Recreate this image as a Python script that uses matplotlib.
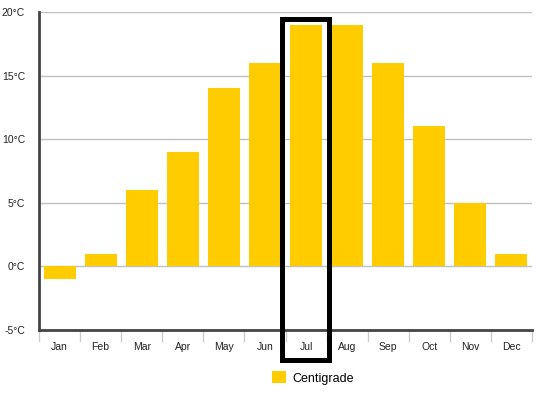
import matplotlib
matplotlib.use("Agg")
import matplotlib.pyplot as plt
from matplotlib.patches import Rectangle
import matplotlib.transforms as mtransforms

months = ["Jan", "Feb", "Mar", "Apr", "May", "Jun", "Jul", "Aug", "Sep", "Oct", "Nov", "Dec"]
centigrade = [-1, 1, 6, 9, 14, 16, 19, 19, 16, 11, 5, 1]
yticks = [-5, 0, 5, 10, 15, 20]
ytick_labels = ["-5°C", "0°C", "5°C", "10°C", "15°C", "20°C"]
highlight = "Jul"

W, H = 543, 399
fig = plt.figure(figsize=(W / 100, H / 100), dpi=100)
ax = fig.add_axes([39 / W, 1 - 330 / H, (532 - 39) / W, (330 - 12) / H])

x = list(range(len(months)))
ax.bar(x, centigrade, width=0.78, color="#FFCC00", zorder=3, label="Centigrade")

ax.set_xlim(-0.5, len(months) - 0.5)
ax.set_ylim(-5, 20)
ax.set_yticks(yticks)
ax.set_yticklabels(ytick_labels, fontsize=7.5, family="Liberation Sans", color="#222222")
ax.set_xticks(x)
ax.set_xticklabels(months, fontsize=7.5, family="Liberation Sans", color="#222222")
ax.tick_params(axis="y", length=0, pad=10)
ax.tick_params(axis="x", length=0, pad=9)
for b in [i - 0.5 for i in range(len(months) + 1)]:
    ax.plot([b, b], [0, -0.035], transform=mtransforms.blended_transform_factory(ax.transData, ax.transAxes),
            color="#cccccc", lw=1, clip_on=False, zorder=1)

for yv in yticks[1:]:
    ax.axhline(yv, color="#c0c0c0", lw=1, zorder=1)

for s in ["top", "right"]:
    ax.spines[s].set_visible(False)
for s in ["left", "bottom"]:
    ax.spines[s].set_color("#444444")
    ax.spines[s].set_linewidth(2)

# highlight box around July
hi = months.index(highlight)
trans = mtransforms.blended_transform_factory(ax.transData, fig.transFigure)
x0 = hi - 0.5 - (285.5 - 282.5) / 41.08
x1 = hi + 0.5 + (329.5 - 326.6) / 41.08
rect = Rectangle((x0, 1 - 359.5 / H), x1 - x0, (359.5 - 18.5) / H, transform=trans,
                 fill=False, edgecolor="black", lw=3.6, clip_on=False, zorder=5)
ax.add_patch(rect)

leg = fig.legend(loc="center", bbox_to_anchor=(313 / W, 1 - 378 / H), frameon=False,
                 handlelength=1.1, handleheight=1.1, handletextpad=0.5,
                 prop={"family": "Liberation Sans", "size": 9})

fig.savefig("out.png", dpi=100)
